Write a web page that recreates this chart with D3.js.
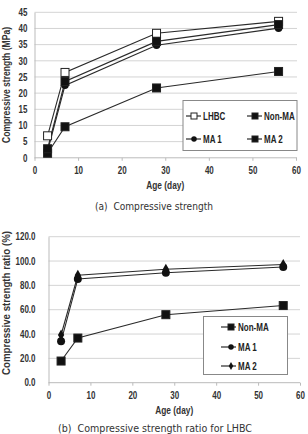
<!DOCTYPE html>
<html>
<head>
<meta charset="utf-8">
<script src="https://cdn.jsdelivr.net/npm/d3@7"></script>
<style>
  body { margin: 0; background: #fff; }
  svg { display: block; }
</style>
</head>
<body>
<svg id="chart"></svg>
<script>
// Data
const ages = [3, 7, 28, 56];

// (a) compressive strength, MPa
const lhbc = [6.8, 26.4, 38.5, 42.2];
const nonMA = [1.4, 9.6, 21.6, 26.7];
const ma1 = [2.1, 22.4, 34.8, 40.1];
const ma2 = [2.8, 23.6, 36.0, 41.2];

// (b) compressive strength ratio for LHBC, %
const ratioNonMA = [17.8, 36.7, 55.9, 63.4];
const ratioMA1 = [34.0, 85.3, 90.4, 95.1];
const ratioMA2 = [39.2, 88.3, 93.2, 97.2];

const strengthTicks = [0, 5, 10, 15, 20, 25, 30, 35, 40, 45];
const ratioTicks = [0, 20, 40, 60, 80, 100, 120];
const ageTicks = [0, 10, 20, 30, 40, 50, 60];

const width = 308;
const height = 434;
const svg = d3.select('#chart').attr('width', width).attr('height', height);

const boldFont = '"Liberation Sans", Arial, sans-serif';
const lineColor = '#2a2a2a';

// squeeze a text node to a narrower width (the original uses a condensed face)
function condense(sel, factor) {
    sel.each(function() {
        const w = this.getComputedTextLength();
        d3.select(this).attr('textLength', w * factor).attr('lengthAdjust', 'spacingAndGlyphs');
    });
}

// draw a marker of a given kind at (x, y)
function marker(g, kind, x, y, s) {
    if (kind === 'openSquare' || kind === 'square') {
        g.append('rect')
            .attr('x', x - s / 2).attr('y', y - s / 2)
            .attr('width', s).attr('height', s)
            .attr('fill', kind === 'openSquare' ? '#fff' : '#111')
            .attr('stroke', '#222').attr('stroke-width', 1);
    } else if (kind === 'circle') {
        g.append('circle')
            .attr('cx', x).attr('cy', y).attr('r', s / 2)
            .attr('fill', '#111');
    } else if (kind === 'diamond') {
        g.append('path')
            .attr('d', d3.symbol(d3.symbolDiamond, s * s * 0.7)())
            .attr('transform', `translate(${x},${y})`)
            .attr('fill', '#111');
    }
}

function drawChart(opt) {
    const x = d3.scaleLinear().domain([0, 60]).range([opt.left, opt.right]);
    const y = d3.scaleLinear().domain([0, opt.yMax]).range([opt.bottom, opt.top]);

    // Horizontal gridlines
    svg.append('g')
        .selectAll('line')
        .data(opt.yTicks.slice(1))
        .join('line')
        .attr('x1', opt.left).attr('x2', opt.gridRight)
        .attr('y1', d => y(d)).attr('y2', d => y(d))
        .attr('stroke', '#d4d4d4').attr('stroke-width', 1);

    // Axes
    const yAxis = svg.append('g')
        .attr('transform', `translate(${opt.left},0)`)
        .call(d3.axisLeft(y).tickValues(opt.yTicks).tickFormat(opt.yFormat).tickSize(0).tickPadding(opt.yPad));
    yAxis.select('.domain').attr('stroke', '#bbb');
    yAxis.selectAll('.tick text')
        .attr('font-family', boldFont).attr('font-weight', 'bold')
        .attr('font-size', 10).attr('fill', '#333')
        .call(condense, 0.8);

    const xAxis = svg.append('g')
        .attr('transform', `translate(0,${opt.bottom})`)
        .call(d3.axisBottom(x).tickValues(ageTicks).tickSize(3).tickSizeOuter(0).tickPadding(6));
    xAxis.select('.domain').attr('stroke', '#bbb').attr('d', `M${opt.left},0H${opt.gridRight}`);
    xAxis.selectAll('.tick line').attr('stroke', '#bbb');
    xAxis.selectAll('.tick text')
        .attr('font-family', boldFont).attr('font-weight', 'bold')
        .attr('font-size', 10).attr('fill', '#333')
        .call(condense, 0.8);

    // Axis titles
    svg.append('text')
        .attr('x', (opt.left + opt.right) / 2).attr('y', opt.bottom + 31)
        .attr('text-anchor', 'middle')
        .attr('font-family', boldFont).attr('font-weight', 'bold').attr('font-size', 10)
        .attr('fill', '#333')
        .text('Age (day)')
        .attr('textLength', 38).attr('lengthAdjust', 'spacingAndGlyphs');

    svg.append('text')
        .attr('transform', `translate(${opt.yTitleX},${opt.yTitleY}) rotate(-90)`)
        .attr('text-anchor', 'middle')
        .attr('font-family', boldFont).attr('font-weight', 'bold').attr('font-size', 10)
        .attr('fill', '#333')
        .text(opt.yTitle)
        .attr('textLength', opt.yTitleLen).attr('lengthAdjust', 'spacingAndGlyphs');

    // Series lines + markers
    const line = d3.line().x((d, i) => x(ages[i])).y(d => y(d));
    opt.series.forEach(s => {
        svg.append('path')
            .datum(s.values)
            .attr('fill', 'none')
            .attr('stroke', lineColor)
            .attr('stroke-width', 1.1)
            .attr('d', line);
    });
    opt.series.forEach(s => {
        const g = svg.append('g');
        s.values.forEach((v, i) => marker(g, s.kind, x(ages[i]), y(v), s.size));
    });

    // Legend
    const lg = svg.append('g');
    lg.append('rect')
        .attr('x', opt.legend.x).attr('y', opt.legend.y)
        .attr('width', opt.legend.w).attr('height', opt.legend.h)
        .attr('fill', '#fff').attr('stroke', '#888').attr('stroke-width', 1);
    opt.series.forEach((s, i) => {
        const p = opt.legend.pos[i];
        lg.append('line')
            .attr('x1', p[0] - 8).attr('x2', p[0] + 7)
            .attr('y1', p[1]).attr('y2', p[1])
            .attr('stroke', lineColor).attr('stroke-width', 1.2);
        marker(lg, s.kind, p[0] + opt.legend.mOff, p[1], s.legendSize);
        lg.append('text')
            .attr('x', p[0] + 9).attr('y', p[1] + 3.5)
            .attr('font-family', boldFont).attr('font-weight', 'bold').attr('font-size', 10)
            .attr('fill', '#222')
            .text(s.name)
            .call(condense, 0.8);
    });

    // Caption
    svg.append('text')
        .attr('x', opt.captionX).attr('y', opt.captionY)
        .attr('text-anchor', 'middle')
        .attr('font-family', '"DejaVu Sans", sans-serif').attr('font-size', 10.5)
        .attr('fill', '#333')
        .attr('xml:space', 'preserve')
        .text(opt.caption)
        .attr('textLength', opt.captionLen).attr('lengthAdjust', 'spacingAndGlyphs');
}

// (a) Compressive strength
drawChart({
    left: 34.5, right: 296, gridRight: 297, top: 12.3, bottom: 157.8,
    yMax: 45, yTicks: strengthTicks, yFormat: d3.format('d'), yPad: 7,
    yTitle: 'Compressive strength (MPa)', yTitleX: 10, yTitleY: 85, yTitleLen: 116,
    series: [
        { name: 'LHBC', kind: 'openSquare', values: lhbc, size: 8, legendSize: 6 },
        { name: 'Non-MA', kind: 'square', values: nonMA, size: 8, legendSize: 6 },
        { name: 'MA 1', kind: 'circle', values: ma1, size: 7.5, legendSize: 5.5 },
        { name: 'MA 2', kind: 'square', values: ma2, size: 8, legendSize: 6 }
    ],
    legend: {
        x: 183, y: 100.5, w: 114, h: 50, mOff: 0,
        pos: [[194, 116], [255, 116], [194, 139], [255, 139]]
    },
    caption: '(a)  Compressive strength', captionX: 154, captionY: 210, captionLen: 118
});

// (b) Compressive strength ratio for LHBC
drawChart({
    left: 48.5, right: 300, gridRight: 300, top: 236.7, bottom: 382.7,
    yMax: 120, yTicks: ratioTicks, yFormat: d3.format('.1f'), yPad: 13,
    yTitle: 'Compressive strength ratio (%)', yTitleX: 10, yTitleY: 303, yTitleLen: 144,
    series: [
        { name: 'Non-MA', kind: 'square', values: ratioNonMA, size: 8, legendSize: 6 },
        { name: 'MA 1', kind: 'circle', values: ratioMA1, size: 8, legendSize: 5.5 },
        { name: 'MA 2', kind: 'diamond', values: ratioMA2, size: 7, legendSize: 5 }
    ],
    legend: {
        x: 203.5, y: 316.5, w: 84, h: 58, mOff: 2,
        pos: [[229, 327], [229, 347], [229, 366]]
    },
    caption: '(b)  Compressive strength ratio for LHBC', captionX: 155, captionY: 432, captionLen: 194
});
</script>
</body>
</html>
